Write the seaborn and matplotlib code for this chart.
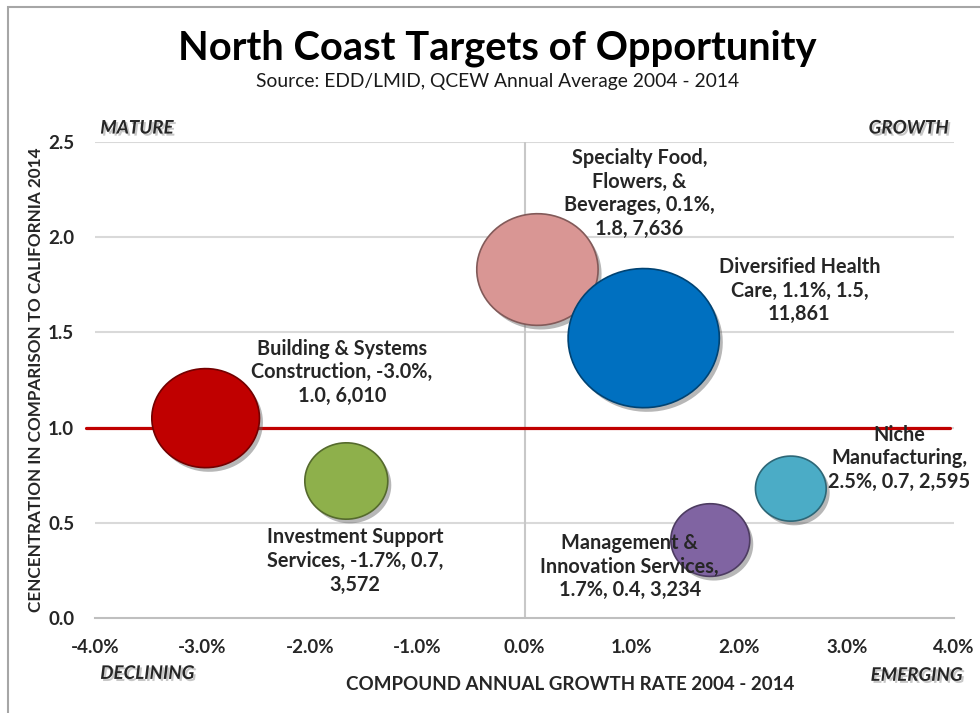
import matplotlib
matplotlib.use("Agg")
import matplotlib.pyplot as plt
import matplotlib.patheffects as pe
from matplotlib.patches import Rectangle
from matplotlib.path import Path
from matplotlib.ticker import FuncFormatter
import numpy as np
import pandas as pd
import seaborn as sns

# Data
clusters = ["Building & Systems Construction", "Investment Support Services",
            "Specialty Food, Flowers, & Beverages", "Diversified Health Care",
            "Niche Manufacturing", "Management & Innovation Services"]
growth = [-2.97, -1.66, 0.12, 1.11, 2.48, 1.73]        # CAGR 2004-2014, %
concentration = [1.05, 0.72, 1.83, 1.47, 0.68, 0.41]  # LQ vs California
jobs = [6010, 3572, 7636, 11861, 2595, 3234]
colors = ["#C00000", "#8EB04B", "#D99694", "#0070C0", "#4BACC6", "#8064A2"]
labels = ["Building & Systems\nConstruction, -3.0%,\n1.0, 6,010",
          "Investment Support\nServices, -1.7%, 0.7,\n3,572",
          "Specialty Food,\nFlowers, &\nBeverages, 0.1%,\n1.8, 7,636",
          "Diversified Health\nCare, 1.1%, 1.5,\n11,861",
          "Niche\nManufacturing,\n2.5%, 0.7, 2,595",
          "Management &\nInnovation Services,\n1.7%, 0.4, 3,234"]
label_x = [-1.70, -1.58, 1.07, 2.56, 3.49, 0.98]
label_y = [1.29, 0.30, 2.23, 1.72, 0.84, 0.27]

df = pd.DataFrame({"cluster": clusters, "growth": growth,
                   "lq": concentration, "jobs": jobs})

sns.set_style("white")
plt.rcParams["font.family"] = ["Lato", "DejaVu Sans"]

fig = plt.figure(figsize=(9.8, 7.13), dpi=100)
ax = fig.add_axes([0.097, 0.133, 0.8765, 0.668])

# gridlines and quadrant dividers
for y in [0.5, 1.0, 1.5, 2.0, 2.5]:
    ax.axhline(y, color="#D9D9D9", lw=1.5, zorder=0)
ax.axvline(0, color="#C8C8C8", lw=1.5, zorder=0)

# bubbles are slightly squashed in the original (Excel plot area aspect)
theta = np.linspace(0, 2 * np.pi, 80)
ellipse = Path(np.column_stack([np.cos(theta), 0.92 * np.sin(theta)]), closed=True)

shadow = [pe.SimplePatchShadow(offset=(2.5, -3), shadow_rgbFace="#606060", alpha=0.45),
          pe.Normal()]
edge = [tuple(c * 0.6 for c in matplotlib.colors.to_rgb(col)) for col in colors]
sns.scatterplot(data=df, x="growth", y="lq", hue="cluster", palette=colors,
                size="jobs", sizes=(min(jobs), max(jobs)),
                size_norm=(min(jobs), max(jobs)), legend=False, ax=ax,
                marker=ellipse, edgecolor=edge, linewidth=1.2, alpha=1, zorder=3)
for coll in ax.collections:
    coll.set_path_effects(shadow)

# reference line at LQ = 1.0
ax.axhline(1.0, xmin=-0.01, xmax=0.995, color="#C00000", lw=2.3, zorder=2, clip_on=False)

for txt, lx, ly in zip(labels, label_x, label_y):
    ax.text(lx, ly, txt, ha="center", va="center", fontsize=14.3, fontweight="bold",
            color="#262626", linespacing=1.22, zorder=5)

ax.set_xlim(-4, 4)
ax.set_ylim(0, 2.5)
ax.set_xticks(np.arange(-4, 4.01, 1))
ax.set_yticks(np.arange(0, 2.51, 0.5))
ax.xaxis.set_major_formatter(FuncFormatter(lambda v, p: f"{v:.1f}%"))
ax.yaxis.set_major_formatter(FuncFormatter(lambda v, p: f"{v:.1f}"))
ax.tick_params(axis="x", length=5, width=1.5, color="#BFBFBF", labelsize=13.5, pad=10)
ax.tick_params(axis="y", length=0, labelsize=13.5, pad=15)
for lab in ax.get_xticklabels() + ax.get_yticklabels():
    lab.set_fontweight("bold")
    lab.set_color("#262626")
for s in ["left", "right", "top"]:
    ax.spines[s].set_visible(False)
ax.spines["bottom"].set_color("#BFBFBF")
ax.spines["bottom"].set_linewidth(1.5)

ax.set_xlabel("COMPOUND ANNUAL GROWTH RATE 2004 - 2014", fontsize=13.5, fontweight="bold",
              color="#262626")
ax.xaxis.set_label_coords(0.553, -0.121)
ax.set_ylabel("CENCENTRATION IN COMPARISON TO CALIFORNIA 2014", fontsize=12.3,
              fontweight="bold", color="#262626")
ax.yaxis.set_label_coords(-0.060, 0.5)

# quadrant labels with a soft drop shadow
quad = [("MATURE", 0.006, 1.029, "left"), ("GROWTH", 0.994, 1.029, "right"),
        ("DECLINING", 0.006, -0.116, "left"), ("EMERGING", 1.01, -0.12, "right")]
for name, qx, qy, ha in quad:
    t = ax.text(qx, qy, name, transform=ax.transAxes, ha=ha, va="center", fontsize=13.5,
                fontweight="bold", fontstyle="italic", color="#262626")
    t.set_path_effects([pe.withSimplePatchShadow(offset=(1.5, -1.5),
                                                 shadow_rgbFace="#b0b0b0", alpha=0.7)])

fig.text(0.507, 0.932, "North Coast Targets of Opportunity", ha="center", va="center",
         fontsize=28.7, fontweight="bold", color="black")
fig.text(0.508, 0.886, "Source: EDD/LMID, QCEW Annual Average 2004 - 2014", ha="center",
         va="center", fontsize=13.9, color="#1a1a1a")

fig.patches.append(Rectangle((0.008, -0.05), 1.2, 1.04, transform=fig.transFigure,
                             fill=False, edgecolor="#A6A6A6", lw=1.5))

fig.savefig("out.png", dpi=100)
